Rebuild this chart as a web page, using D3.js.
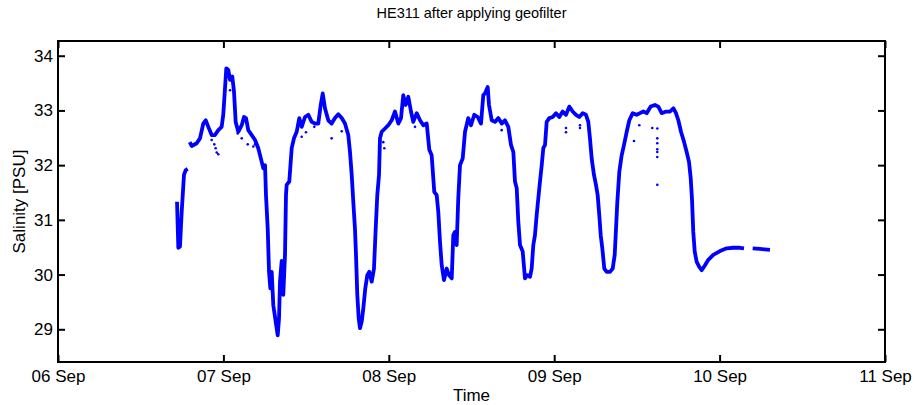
<html>
<head>
  <meta charset="utf-8">
  <script src="https://d3js.org/d3.v7.min.js"></script>
  <script>
    // hours after 06 Sep 00:00, null salinity = gap in the record
    var hours = [
      17.27, 17.46, 17.70, 17.95, 18.28, 18.53, 18.82, 18.95,
      19.11, 19.40, 20.13, 20.60, 21.08, 21.43, 21.81, 22.30, 22.78, 23.26, 23.75, 23.98,
      24.23, 24.42, 24.71, 24.96, 25.29, 25.54, 25.78, 26.16, 26.66, 26.99, 27.28, 27.61,
      28.11, 28.59, 29.06, 29.56, 29.79, 30.04, 30.18, 30.43, 30.62, 30.81, 31.01, 31.24,
      31.59, 31.88, 32.07, 32.21, 32.46, 32.69, 32.94, 33.08, 33.18, 33.56, 33.91, 34.24,
      34.64, 35.01, 35.36, 35.84, 36.32, 36.81, 37.29, 37.77, 38.12, 38.41, 38.74, 39.22,
      39.71, 40.19, 40.67, 41.17, 41.64, 42.12, 42.37, 42.62, 42.85, 43.09, 43.24, 43.43,
      43.63, 43.82, 44.07, 44.30, 44.59, 44.88, 45.17, 45.52, 45.85, 46.10, 46.33, 46.58,
      46.72, 46.97, 47.45, 47.93, 48.42, 48.90, 49.38, 49.77, 50.10, 50.45, 50.83, 51.22,
      51.55, 52.05, 52.53, 53.01, 53.50, 53.88, 54.22, 54.60, 54.95, 55.18, 55.43, 55.68,
      56.01, 56.40, 56.73, 57.13, 57.36, 57.60, 57.85, 58.08, 58.33, 58.72, 59.06, 59.53,
      59.93, 60.40, 60.90, 61.38, 61.71, 61.96, 62.35, 62.54, 62.93, 63.41, 63.89, 64.38,
      64.86, 65.34, 65.73, 66.07, 66.31, 66.56, 66.79, 67.04, 67.43, 67.76, 68.10, 68.49,
      68.73, 68.97, 69.21, 69.46, 69.84, 70.19, 70.42, 70.67, 70.91, 71.29, 71.78, 72.26,
      72.74, 73.23, 73.71, 74.19, 74.68, 75.16, 75.64, 76.13, 76.61, 76.95, 77.19, 77.44,
      77.77, 78.06, 78.31, 78.54, 78.75, 78.98, 79.27, 79.62, 80.10, 80.49, 80.78, 80.97,
      81.16, 81.45, 81.79, 82.13, 82.52, 82.90, 83.39, 83.97, 84.45, 84.93, 85.42, 86.00,
      86.62, 87.11, 87.60, 88.23, 88.81, 89.29, 89.67, 90.01, 90.40, 90.83, 91.22, 91.56,
      91.81, 91.99, 92.18, 92.39, 92.68, 93.05, 93.40, 93.88, 94.36, 95.08, 96.06, 97.03,
      97.99, 98.96, 99.54, 100.2,
      100.80, 101.86, 103.31
    ];
    var salinity = [
      31.33, 30.49, 30.51, 31.15, 31.82, 31.91, 31.93, null,
      32.42, 32.35, 32.40, 32.49, 32.76, 32.82, 32.70, 32.55, 32.55, 32.64, 32.70, 32.92,
      33.40, 33.77, 33.74, 33.56, 33.62, 33.34, 32.79, 32.61, 32.73, 32.88, 32.86, 32.64,
      32.55, 32.46, 32.31, 32.06, 31.94, 32.00, 31.45, 30.84, 30.05, 29.75, 30.05, 29.44,
      29.14, 28.89, 29.20, 29.87, 30.25, 29.63, 30.36, 31.45, 31.64, 31.70, 32.31, 32.49,
      32.61, 32.86, 32.70, 32.88, 32.92, 32.79, 32.76, 32.76, 33.10, 33.31, 33.04, 32.82,
      32.76, 32.86, 32.93, 32.86, 32.76, 32.55, 32.24, 31.82, 31.33, 30.84, 30.36, 29.63,
      29.20, 29.02, 29.14, 29.38, 29.75, 29.99, 30.05, 29.87, 30.11, 30.84, 31.45, 31.82,
      32.49, 32.61, 32.67, 32.73, 32.82, 32.98, 32.76, 32.86, 33.28, 33.10, 33.25, 32.98,
      32.79, 32.95, 32.82, 32.73, 32.76, 32.28, 32.18, 31.51, 31.45, 31.15, 30.60, 30.17,
      29.90, 30.11, 29.99, 29.93, 30.72, 30.78, 30.54, 31.39, 32.00, 32.12, 32.61, 32.86,
      32.73, 32.92, 32.88, 32.76, 33.28, 33.31, 33.43, 33.10, 32.82, 32.79, 32.86, 32.76,
      32.82, 32.70, 32.37, 32.24, 31.70, 31.58, 30.97, 30.54, 30.42, 29.93, 29.99, 29.96,
      30.11, 30.54, 30.72, 31.09, 31.58, 32.00, 32.31, 32.37, 32.79, 32.86, 32.88, 32.95,
      32.88, 32.98, 32.92, 33.07, 32.98, 32.92, 32.88, 32.95, 32.92, 32.79, 32.49, 32.12,
      31.82, 31.64, 31.45, 31.09, 30.72, 30.48, 30.11, 30.05, 30.05, 30.11, 30.36, 30.84,
      31.33, 31.88, 32.18, 32.37, 32.61, 32.82, 32.95, 32.92, 32.95, 32.98, 32.95, 33.07,
      33.10, 33.07, 32.95, 32.98, 32.98, 33.04, 32.95, 32.82, 32.61, 32.43, 32.24, 32.06,
      31.76, 31.39, 30.78, 30.42, 30.23, 30.14, 30.08, 30.17, 30.27, 30.36, 30.43, 30.48,
      30.49, 30.49, 30.48, null,
      30.48, 30.47, 30.45
    ];
    // stray samples below the main band
    var outlierHours = [
      22.30, 22.68, 22.88, 23.03, 23.26, 24.96, 26.07, 26.66, 27.53, 28.34, 28.59,
      35.36, 35.98, 37.19, 39.71, 41.17, 47.20, 47.35, 51.80, 64.38,
      73.71, 73.71, 75.74, 75.74, 83.58, 84.35, 86.23,
      86.96, 86.96, 86.96, 86.96, 86.96, 86.96, 86.96
    ];
    var outlierSalinity = [
      32.46, 32.38, 32.31, 32.23, 32.20, 33.37, 32.58, 32.49, 32.38, 32.34, 32.38,
      32.52, 32.60, 32.70, 32.49, 32.62, 32.42, 32.31, 32.70, 32.64,
      32.68, 32.60, 32.73, 32.68, 32.44, 32.73, 32.68,
      32.67, 32.49, 32.40, 32.29, 32.24, 32.15, 31.64
    ];
    var dayTicks = ["06 Sep", "07 Sep", "08 Sep", "09 Sep", "10 Sep", "11 Sep"];
    var salTicks = [29, 30, 31, 32, 33, 34];

    function makeGraph() {
        var t0 = Date.UTC(2000, 8, 6);
        var toDate = h => new Date(t0 + h * 3600e3);
        var data = hours.map( (h, i) => [ toDate(h), salinity[i] ] );
        var dots = outlierHours.map( (h, i) => [ toDate(h), outlierSalinity[i] ] );

        var left = 58, top = 41, width = 827, height = 321;
        var svg = d3.select( "#graph" );
        var g = svg.append( "g" ).attr( "transform", "translate(" + left + "," + top + ")" );

        var x = d3.scaleUtc().domain( [ toDate(0), toDate(120) ] ).range( [ 0, width ] );
        var y = d3.scaleLinear().domain( [ 28.402, 34.269 ] ).range( [ height, 0 ] );
        var fmt = d => dayTicks[ Math.round( (d - t0) / 864e5 ) ];
        var dayVals = dayTicks.map( (s, i) => toDate(24 * i) );

        g.append( "path" )
            .attr( "d", d3.line().defined( d => d[1] != null )
                .x( d => x(d[0]) ).y( d => y(d[1]) )(data) )
            .attr( "fill", "none" ).attr( "stroke", "#0000ff" )
            .attr( "stroke-width", 3.8 ).attr( "stroke-linejoin", "round" );

        g.selectAll( "circle" ).data( dots ).enter().append( "circle" )
            .attr( "cx", d => x(d[0]) ).attr( "cy", d => y(d[1]) )
            .attr( "r", 1.3 ).attr( "fill", "#0000ff" );

        var axes = [
            [ d3.axisBottom( x ).tickValues( dayVals ).tickFormat( fmt ).tickPadding( 8 ), 0, height ],
            [ d3.axisTop( x ).tickValues( dayVals ).tickFormat( "" ), 0, 0 ],
            [ d3.axisLeft( y ).tickValues( salTicks ).tickFormat( d3.format( "d" ) ).tickPadding( 5 ), 0, 0 ],
            [ d3.axisRight( y ).tickValues( salTicks ).tickFormat( "" ), width, 0 ]
        ];
        axes.forEach( a => {
            var ax = g.append( "g" ).attr( "transform", "translate(" + a[1] + "," + a[2] + ")" )
                .call( a[0].tickSizeInner( -7 ).tickSizeOuter( 0 ) );
            ax.select( ".domain" ).remove();
            ax.selectAll( "line" ).attr( "stroke", "#000" ).attr( "stroke-width", 2 );
            ax.selectAll( "text" ).attr( "font-size", 17 ).attr( "fill", "#000" )
                .attr( "font-family", "Liberation Sans, Arial, sans-serif" );
        } );

        g.append( "rect" ).attr( "width", width ).attr( "height", height )
            .attr( "fill", "none" ).attr( "stroke", "#000" ).attr( "stroke-width", 2 );

        svg.append( "text" ).attr( "x", left + width / 2 ).attr( "y", 18 )
            .attr( "text-anchor", "middle" ).attr( "font-size", 14.5 )
            .text( "HE311 after applying geofilter" );
        svg.append( "text" ).attr( "x", left + width / 2 ).attr( "y", 401 )
            .attr( "text-anchor", "middle" ).attr( "font-size", 17 ).text( "Time" );
        svg.append( "text" ).attr( "transform", "translate(25," + (top + height / 2) + ") rotate(-90)" )
            .attr( "text-anchor", "middle" ).attr( "font-size", 17 ).text( "Salinity [PSU]" );
    }
  </script>
  <style>
    body { margin: 0; }
    svg text { font-family: "Liberation Sans", Arial, sans-serif; }
  </style>
</head>

<body onload="makeGraph()">
    <svg id="graph" width="917" height="405" style="background:white"></svg>
</body>
</html>
